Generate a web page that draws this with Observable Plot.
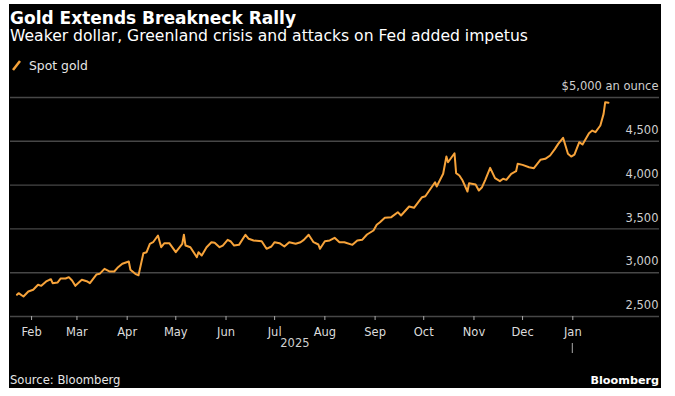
<!DOCTYPE html>
<html>
<head>
<meta charset="utf-8">
<script src="https://cdn.jsdelivr.net/npm/d3@7"></script>
<script src="https://cdn.jsdelivr.net/npm/@observablehq/plot@0.6"></script>
<style>
  html, body { margin: 0; padding: 0; background: #fff; }
  #card { position: absolute; left: 9px; top: 4px; width: 652px; height: 384px; background: #000; overflow: hidden; font-family: "DejaVu Sans", sans-serif; }
  .t { position: absolute; white-space: nowrap; line-height: 1; }
  #title { left: 1px; top: 6px; font-size: 17px; font-weight: bold; color: #fff; }
  #subtitle { left: 1px; top: 25px; font-size: 15.6px; color: #fff; }
  #legend { left: 3px; top: 56px; font-size: 12.4px; color: #e6e6e6; }
  #legend svg { vertical-align: -1px; margin-right: 8px; }
  #source { left: 1px; top: 371px; font-size: 11.6px; color: #e6e6e6; }
  #brand { right: 2px; top: 371px; font-size: 11.2px; font-weight: bold; color: #fff; }
  #chart { position: absolute; left: 0; top: 72px; }
</style>
</head>
<body>
<div id="card">
  <div class="t" id="title">Gold Extends Breakneck Rally</div>
  <div class="t" id="subtitle">Weaker dollar, Greenland crisis and attacks on Fed added impetus</div>
  <div class="t" id="legend"><svg width="9" height="11"><line x1="1" y1="10" x2="8" y2="1" stroke="#f7a33a" stroke-width="2.5"/></svg>Spot gold</div>
  <div id="chart"></div>
  <div class="t" id="source">Source: Bloomberg</div>
  <div class="t" id="brand">Bloomberg</div>
</div>
<script>
const dates = [
  "2025-01-23","2025-01-24","2025-01-27","2025-01-30","2025-02-02","2025-02-05","2025-02-07","2025-02-10","2025-02-12","2025-02-13",
  "2025-02-14","2025-02-17","2025-02-19","2025-02-22","2025-02-24","2025-02-26","2025-02-28","2025-03-04","2025-03-07","2025-03-09",
  "2025-03-13","2025-03-15","2025-03-18","2025-03-21","2025-03-24","2025-03-26","2025-03-29","2025-04-02","2025-04-03","2025-04-06",
  "2025-04-08","2025-04-11","2025-04-13","2025-04-15","2025-04-17","2025-04-20","2025-04-22","2025-04-24","2025-04-27","2025-05-01",
  "2025-05-05","2025-05-06","2025-05-07","2025-05-10","2025-05-14","2025-05-15","2025-05-17","2025-05-20","2025-05-23","2025-05-25",
  "2025-05-28","2025-05-30","2025-06-02","2025-06-04","2025-06-06","2025-06-09","2025-06-13","2025-06-15","2025-06-18","2025-06-23",
  "2025-06-26","2025-06-29","2025-07-01","2025-07-04","2025-07-07","2025-07-10","2025-07-14","2025-07-17","2025-07-19","2025-07-22",
  "2025-07-25","2025-07-28","2025-07-29","2025-08-01","2025-08-04","2025-08-07","2025-08-10","2025-08-13","2025-08-18","2025-08-21",
  "2025-08-24","2025-08-27","2025-08-31","2025-09-02","2025-09-04","2025-09-07","2025-09-11","2025-09-15","2025-09-17","2025-09-22",
  "2025-09-25","2025-09-30","2025-10-02","2025-10-08","2025-10-09","2025-10-13","2025-10-15","2025-10-16","2025-10-20","2025-10-21",
  "2025-10-23","2025-10-25","2025-10-28","2025-10-29","2025-11-02","2025-11-04","2025-11-06","2025-11-08","2025-11-11","2025-11-14",
  "2025-11-17","2025-11-19","2025-11-21","2025-11-24","2025-11-27","2025-11-28","2025-12-01","2025-12-05","2025-12-08","2025-12-12",
  "2025-12-15","2025-12-18","2025-12-21","2025-12-23","2025-12-26","2025-12-29","2025-12-31","2026-01-02","2026-01-05","2026-01-07",
  "2026-01-11","2026-01-13","2026-01-15","2026-01-18","2026-01-20","2026-01-21","2026-01-23"
];
const prices = [
  2748,2766,2728,2785,2805,2862,2850,2900,2919,2925,
  2880,2888,2934,2934,2949,2911,2850,2919,2903,2880,
  2979,2987,3044,3014,3014,3056,3102,3128,3033,2987,
  2971,3222,3234,3330,3348,3425,3291,3337,3337,3234,
  3330,3433,3310,3291,3177,3234,3196,3291,3348,3341,
  3291,3310,3375,3356,3310,3318,3433,3387,3368,3360,
  3273,3299,3348,3337,3299,3348,3330,3348,3375,3433,
  3348,3322,3273,3360,3368,3398,3348,3348,3318,3368,
  3375,3436,3482,3547,3576,3627,3634,3691,3653,3756,
  3741,3862,3873,4033,3984,4129,4326,4261,4364,4136,
  4110,4052,3927,4022,4007,3938,3976,4060,4197,4079,
  4045,4072,4060,4129,4159,4243,4231,4204,4193,4289,
  4300,4338,4414,4471,4540,4357,4326,4349,4490,4463,
  4593,4623,4604,4680,4813,4947,4940
];
const monthTicks = ["2025-02-01","2025-03-01","2025-04-01","2025-05-01","2025-06-01","2025-07-01","2025-08-01","2025-09-01","2025-10-01","2025-11-01","2025-12-01","2026-01-01"];
const yearBoundary = "2026-01-01";
const yearLabel = "2025";
const yTicks = [2500, 3000, 3500, 4000, 4500, 5000];
const yTickLabels = ["2,500", "3,000", "3,500", "4,000", "4,500", "$5,000 an ounce"];
const xDomain = ["2025-01-19T00:00Z", "2026-02-23T12:00Z"];

const parse = s => new Date(s.length === 10 ? s + "T00:00Z" : s);
const data = dates.map((d, i) => ({date: parse(d), price: prices[i]}));
const ticks = monthTicks.map(parse);
const yb = parse(yearBoundary);
const yearMid = new Date((data[0].date.getTime() + yb.getTime()) / 2);

const ORANGE = "#f7a33a";
const GRID = "#474747";

const separator = (index, scales, values, dim) => {
  const x = scales.x(yb);
  const y0 = dim.height - dim.marginBottom;
  const g = d3.create("svg:line")
    .attr("x1", x).attr("x2", x)
    .attr("y1", y0 + 27).attr("y2", y0 + 37)
    .attr("stroke", "#aaa").attr("stroke-width", 1);
  return g.node();
};

const chart = Plot.plot({
  width: 652,
  height: 286,
  marginTop: 21,
  marginBottom: 46,
  marginLeft: 1,
  marginRight: 2,
  style: {background: "transparent", color: "#d9d9d9", fontFamily: "DejaVu Sans, sans-serif", fontSize: "11.5px"},
  x: {type: "utc", domain: xDomain.map(parse), axis: null},
  y: {domain: [2500, 5000], axis: null},
  marks: [
    Plot.ruleY(yTicks, {stroke: GRID, strokeWidth: 1.4}),
    Plot.line(data, {x: "date", y: "price", stroke: ORANGE, strokeWidth: 2, curve: "linear"}),
    Plot.text(yTicks, {y: d => d, text: (d, i) => yTickLabels[i], frameAnchor: "right", textAnchor: "end", dx: -1, dy: -11, fill: "#cfcfcf", fontSize: 11.5}),
    Plot.axisX(ticks, {anchor: "bottom", tickFormat: d3.utcFormat("%b"), tickSize: 4, tickPadding: 7, stroke: "#aaa", fill: "#dcdcdc", fontSize: 11.5, label: null}),
    Plot.text([yearLabel], {x: () => yearMid, text: d => d, frameAnchor: "bottom", dy: 30, fill: "#cfcfcf", fontSize: 11.5}),
    separator
  ]
});
document.getElementById("chart").appendChild(chart);
</script>
</body>
</html>
